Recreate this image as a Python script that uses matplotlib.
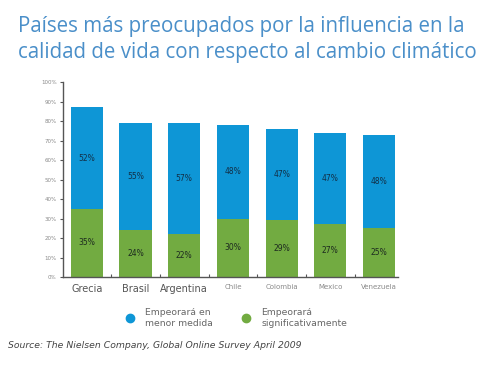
import matplotlib
matplotlib.use("Agg")
import matplotlib.pyplot as plt
import numpy as np
from matplotlib.lines import Line2D

countries = ["Grecia", "Brasil", "Argentina", "Chile", "Colombia", "Mexico", "Venezuela"]
significant = [35, 24, 22, 30, 29, 27, 25]
minor = [52, 55, 57, 48, 47, 47, 48]
yticks = list(range(0, 101, 10))

BLUE = "#0E96D6"
GREEN = "#72AB41"

fig = plt.figure(figsize=(5, 3.8), dpi=100)
fig.patch.set_facecolor("white")

fig.text(0.036, 0.958, "Países más preocupados por la influencia en la\ncalidad de vida con respecto al cambio climático",
         ha="left", va="top", fontsize=14.8, color="#4A8FC9", family="Open Sans", linespacing=1.3)

ax = fig.add_axes([0.126, 0.271, 0.67, 0.513])
x = np.arange(len(countries))
ax.bar(x, significant, width=0.66, color=GREEN, zorder=2)
ax.bar(x, minor, width=0.66, bottom=significant, color=BLUE, zorder=2)

for i in range(len(countries)):
    ax.text(x[i], significant[i] / 2, f"{significant[i]}%", ha="center", va="center",
            fontsize=5.5, color="#1d2a20")
    ax.text(x[i], significant[i] + minor[i] / 2, f"{minor[i]}%", ha="center", va="center",
            fontsize=5.5, color="#123048")

ax.set_xlim(-0.49, 6.39)
ax.set_ylim(0, 100)
ax.set_yticks(yticks)
ax.set_yticklabels([f"{v}%" for v in yticks], fontsize=4, color="#8a8a8a")
ax.tick_params(axis="y", length=2.5, width=0.8, color="#555555", pad=2)

ax.set_xticks(x)
ax.set_xticklabels(countries)
ax.set_xticks(x[:-1] + 0.5, minor=True)
ax.tick_params(axis="x", which="major", length=0, pad=5)
ax.tick_params(axis="x", which="minor", length=2, width=0.8, color="#555555", direction="in")
for i, lab in enumerate(ax.get_xticklabels()):
    if i < 3:
        lab.set_fontsize(7)
        lab.set_color("#555555")
    else:
        lab.set_fontsize(5)
        lab.set_color("#8a8a8a")

for s in ["top", "right"]:
    ax.spines[s].set_visible(False)
ax.spines["left"].set_color("#555555")
ax.spines["bottom"].set_color("#555555")
ax.spines["left"].set_linewidth(1.0)
ax.spines["bottom"].set_linewidth(1.0)

handles = [
    Line2D([], [], marker="o", linestyle="", markersize=6, markerfacecolor=BLUE, markeredgecolor=BLUE),
    Line2D([], [], marker="o", linestyle="", markersize=6, markerfacecolor=GREEN, markeredgecolor=GREEN),
]
fig.legend(handles, ["Empeorará en\nmenor medida", "Empeorará\nsignificativamente"],
           loc="center", bbox_to_anchor=(0.468, 0.163), ncol=2, frameon=False,
           fontsize=6.7, labelcolor="#666666", handletextpad=0.6, columnspacing=2.6)

fig.text(0.016, 0.092, "Source: The Nielsen Company, Global Online Survey April 2009",
         ha="left", va="center", fontsize=6.7, style="italic", color="#444444")

fig.savefig("out.png", dpi=100)
